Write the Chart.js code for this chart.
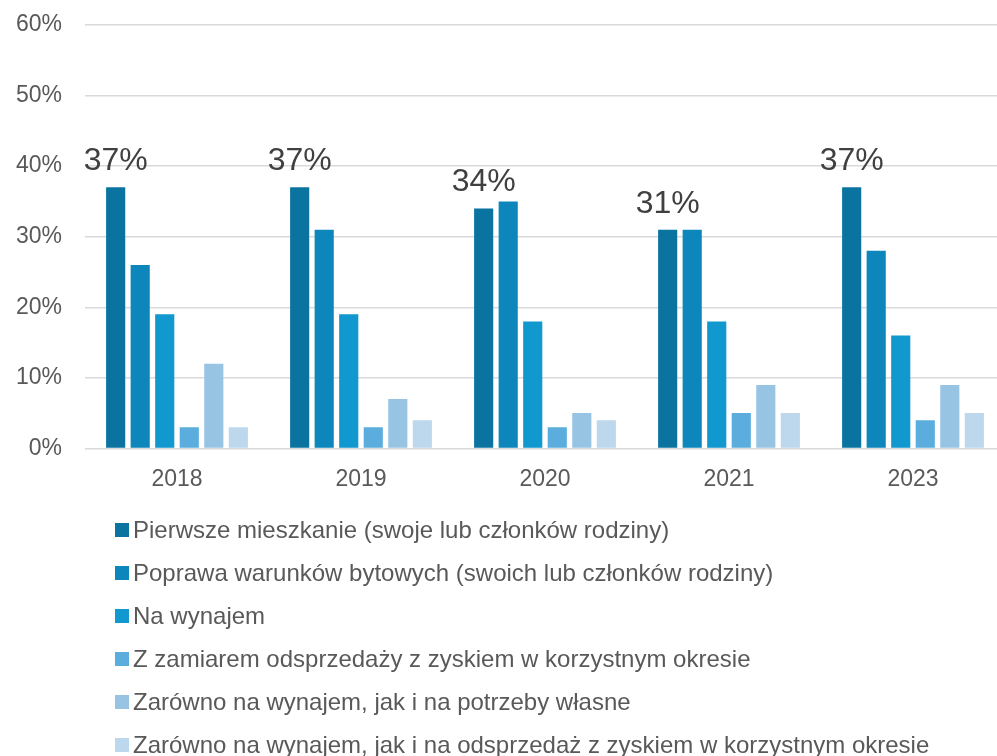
<!DOCTYPE html>
<html>
<head>
<meta charset="utf-8">
<script src="https://cdn.jsdelivr.net/npm/chart.js@4"></script>
<style>
  html, body { margin: 0; padding: 0; background: #fff; overflow: hidden; }
  .chart-container { width: 1005px; height: 756px; }
</style>
</head>
<body>
<div class="chart-container">
  <canvas id="bar-chart" width="1005" height="756"></canvas>
</div>
<script>
// lata i serie (procenty)
const years = ['2018', '2019', '2020', '2021', '2023'];

const seriesNames = [
  'Pierwsze mieszkanie (swoje lub członków rodziny)',
  'Poprawa warunków bytowych (swoich lub członków rodziny)',
  'Na wynajem',
  'Z zamiarem odsprzedaży z zyskiem w korzystnym okresie',
  'Zarówno na wynajem, jak i na potrzeby własne',
  'Zarówno na wynajem, jak i na odsprzedaż z zyskiem w korzystnym okresie',
];

const pierwszeMieszkanie = [37, 37, 34, 31, 37];
const poprawaWarunkow = [26, 31, 35, 31, 28];
const naWynajem = [19, 19, 18, 18, 16];
const odsprzedaz = [3, 3, 3, 5, 4];
const wynajemIPotrzeby = [12, 7, 5, 9, 9];
const wynajemIOdsprzedaz = [3, 4, 4, 5, 5];

const yTicks = [0, 10, 20, 30, 40, 50, 60];

const colors = ['#0b73a0', '#0c86bb', '#1098cf', '#5aaddc', '#98c4e4', '#bdd7ec'];
const seriesValues = [pierwszeMieszkanie, poprawaWarunkow, naWynajem, odsprzedaz, wynajemIPotrzeby, wynajemIOdsprzedaz];

const FONT = '"Liberation Sans", Arial, sans-serif';

// etykiety tylko nad pierwszą serią
const firstSeriesLabels = {
  id: 'firstSeriesLabels',
  afterDatasetsDraw(chart) {
    const ctx = chart.ctx;
    const meta = chart.getDatasetMeta(0);
    ctx.save();
    ctx.font = '32px ' + FONT;
    ctx.fillStyle = '#404040';
    ctx.textAlign = 'center';
    ctx.textBaseline = 'alphabetic';
    meta.data.forEach((bar, i) => {
      ctx.fillText(chart.data.datasets[0].data[i] + '%', bar.x, bar.y - 17);
    });
    ctx.restore();
  }
};

// legenda w kolumnie, jeden wpis na wiersz
const columnLegend = {
  id: 'columnLegend',
  afterDraw(chart) {
    const ctx = chart.ctx;
    ctx.save();
    ctx.font = '24px ' + FONT;
    ctx.textBaseline = 'middle';
    ctx.textAlign = 'left';
    chart.data.datasets.forEach((ds, i) => {
      const y = 530 + i * 43;
      ctx.fillStyle = ds.backgroundColor;
      ctx.fillRect(115, y - 7, 14, 14);
      ctx.fillStyle = '#595959';
      ctx.fillText(ds.label, 133, y + 1);
    });
    ctx.restore();
  }
};

const ctx = document.getElementById('bar-chart');
new Chart(ctx, {
  type: 'bar',
  data: {
    labels: years,
    datasets: seriesNames.map((name, i) => ({
      label: name,
      data: seriesValues[i],
      backgroundColor: colors[i],
      borderWidth: 0,
      categoryPercentage: 0.8,
      barPercentage: 0.78,
    })),
  },
  options: {
    responsive: false,
    animation: false,
    layout: { padding: { top: 25, right: 0, bottom: 246, left: 0 } },
    plugins: {
      legend: { display: false },
      tooltip: { enabled: false },
    },
    scales: {
      x: {
        grid: { display: false, drawTicks: false },
        border: { display: false },
        ticks: {
          color: '#595959',
          font: { family: FONT, size: 23 },
          padding: 17,
        },
      },
      y: {
        min: 0,
        max: 60,
        afterFit(scale) {
          scale.width = 85;
          scale.paddingTop = 0;
          scale.paddingBottom = 0;
        },
        afterBuildTicks(scale) { scale.ticks = yTicks.map(v => ({ value: v })); },
        grid: { color: '#d9d9d9', lineWidth: 1.5, drawTicks: false },
        border: { display: false },
        ticks: {
          color: '#595959',
          font: { family: FONT, size: 23 },
          padding: 23,
          callback: (v) => v + '%',
        },
      },
    },
  },
  plugins: [firstSeriesLabels, columnLegend],
});
</script>
</body>
</html>
